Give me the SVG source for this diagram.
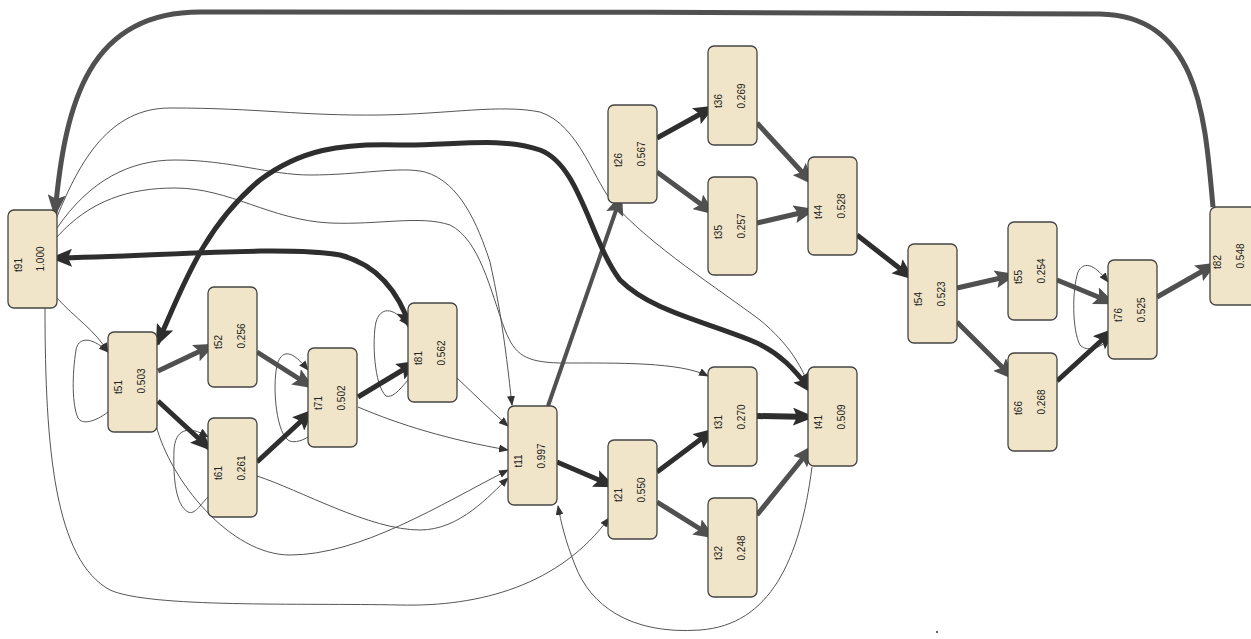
<svg xmlns="http://www.w3.org/2000/svg" width="1251" height="639" viewBox="0 0 1251 639">
<style>
.node{fill:#f0e5c8;stroke:#444;stroke-width:1.3}
.t{font-family:"Liberation Sans",Arial,sans-serif;font-size:10px;fill:#222;text-anchor:middle}
.thin{fill:none;stroke:#555;stroke-width:1}
.dk{fill:none;stroke:#2e2e2e;stroke-width:5}
.gy{fill:none;stroke:#505050;stroke-width:5}
</style>
<defs>
<marker id="aD" viewBox="0 0 22 18" refX="19" refY="9" markerWidth="22" markerHeight="18" markerUnits="userSpaceOnUse" orient="auto-start-reverse"><path d="M0,0 L22,9 L0,18 L4,9 z" fill="#2e2e2e"/></marker>
<marker id="aG" viewBox="0 0 22 18" refX="19" refY="9" markerWidth="22" markerHeight="18" markerUnits="userSpaceOnUse" orient="auto-start-reverse"><path d="M0,0 L22,9 L0,18 L4,9 z" fill="#505050"/></marker>
<marker id="aT" viewBox="0 0 10 8" refX="9" refY="4" markerWidth="10" markerHeight="8" markerUnits="userSpaceOnUse" orient="auto"><path d="M0,0 L10,4 L0,8 z" fill="#333"/></marker>
</defs>
<rect width="1251" height="639" fill="#fff"/>
<g id="connectors">
<path class="thin" marker-end="url(#aT)" d="M57,298 C75,318 95,330 108,352"/>
<path class="thin" marker-end="url(#aT)" d="M57,217 C80,160 110,108 170,108 C260,108 300,116 380,115 C450,114 500,104 540,112 C580,125 595,185 615,205 C650,245 720,290 760,320 C790,345 800,365 808,383"/>
<path class="thin" marker-end="url(#aT)" d="M57,228 C90,180 130,160 175,160 C230,160 270,175 310,175 C360,175 400,166 425,172 C460,182 478,225 490,262 C503,320 508,370 512,405"/>
<path class="thin" marker-end="url(#aT)" d="M57,237 C90,200 130,188 175,188 C230,188 270,220 330,223 C380,225 420,215 450,225 C480,240 490,290 505,330 C515,355 525,362 560,363 C620,363 680,362 708,376"/>
<path class="thin" marker-end="url(#aT)" d="M45,308 C45,450 55,560 110,590 C150,608 300,603 400,605 C480,607 560,585 609,518"/>
<path class="thin" marker-end="url(#aT)" d="M457,378 C475,395 490,410 508,426"/>
<path class="thin" marker-end="url(#aT)" d="M358,407 C400,425 450,440 508,450"/>
<path class="thin" marker-end="url(#aT)" d="M257,476 C300,490 370,530 420,530 C460,530 490,495 508,478"/>
<path class="thin" marker-end="url(#aT)" d="M156,425 C170,480 230,555 290,555 C360,555 440,505 508,470"/>
<path class="thin" marker-end="url(#aT)" d="M812,467 C800,560 770,625 700,630 C630,635 590,605 575,565 C565,540 561,522 558,506"/>
<path class="thin" marker-end="url(#aT)" d="M108,412 C95,422 82,425 78,418 C72,405 72,375 76,350 C78,338 90,335 108,352"/>
<path class="thin" marker-end="url(#aT)" d="M208,497 C200,505 195,515 188,512 C176,505 173,480 174,450 C175,430 188,424 208,437"/>
<path class="thin" marker-end="url(#aT)" d="M308,437 C300,442 292,443 288,440 C275,430 272,380 278,362 C283,350 292,350 308,370"/>
<path class="thin" marker-end="url(#aT)" d="M408,380 C398,392 392,398 386,396 C374,385 372,340 376,322 C380,308 392,305 408,325"/>
<path class="thin" marker-end="url(#aT)" d="M1108,340 C1095,352 1085,350 1080,345 C1072,330 1072,290 1078,272 C1083,262 1093,262 1108,282"/>
<path class="gy" marker-end="url(#aG)" d="M158,371 L213,345"/>
<path class="dk" marker-end="url(#aD)" d="M158,401 L210,449"/>
<path class="gy" marker-end="url(#aG)" d="M257,352 L312,387"/>
<path class="dk" marker-end="url(#aD)" d="M257,462 L312,411"/>
<path class="dk" marker-end="url(#aD)" d="M358,397 L416,362"/>
<path class="dk" marker-end="url(#aD)" d="M557,462 L613,486"/>
<path class="gy" style="stroke-width:4" marker-end="url(#aG)" d="M548,406 L621,196"/>
<path class="dk" marker-end="url(#aD)" d="M657,138 L713,107"/>
<path class="gy" marker-end="url(#aG)" d="M657,172 L713,213"/>
<path class="gy" marker-end="url(#aG)" d="M757,123 L812,183"/>
<path class="gy" marker-end="url(#aG)" d="M757,223 L813,210"/>
<path class="dk" marker-end="url(#aD)" d="M857,235 L912,278"/>
<path class="gy" marker-end="url(#aG)" d="M957,288 L1014,275"/>
<path class="gy" marker-end="url(#aG)" d="M957,322 L1013,378"/>
<path class="gy" marker-end="url(#aG)" d="M1057,280 L1113,303"/>
<path class="dk" marker-end="url(#aD)" d="M1057,381 L1113,330"/>
<path class="gy" marker-end="url(#aG)" d="M1157,297 L1215,264"/>
<path class="dk" marker-end="url(#aD)" d="M657,472 L713,430"/>
<path class="gy" marker-end="url(#aG)" d="M657,502 L713,537"/>
<path class="dk" style="stroke-width:6" marker-end="url(#aD)" d="M757,416 L812,417"/>
<path class="gy" marker-end="url(#aG)" d="M757,515 L812,447"/>
<path class="gy" marker-end="url(#aG)" d="M1213,207 C1205,120 1200,16 1100,14 C900,12 400,12 200,12 C90,12 65,100 55,214"/>
<path class="dk" marker-start="url(#aD)" marker-end="url(#aD)" d="M53,258 C150,257 280,245 340,255 C380,265 400,295 411,329"/>
<path class="dk" marker-start="url(#aD)" marker-end="url(#aD)" d="M157,344 C180,295 200,230 260,180 C300,150 340,143 400,145 C450,146 500,136 540,150 C580,165 590,240 620,280 C650,310 700,320 750,340 C780,352 795,370 812,392"/>
</g>
<g id="t91"><rect class="node" x="8" y="210" width="49" height="98" rx="6"/><text class="t" transform="translate(21.5,265) rotate(-90)">t91</text><text class="t" transform="translate(44,259) rotate(-90)">1.000</text></g>
<g id="t51"><rect class="node" x="108" y="332" width="49" height="100" rx="6"/><text class="t" transform="translate(121.5,387) rotate(-90)">t51</text><text class="t" transform="translate(145,381) rotate(-90)">0.503</text></g>
<g id="t52"><rect class="node" x="208" y="287" width="49" height="100" rx="6"/><text class="t" transform="translate(221.5,342) rotate(-90)">t52</text><text class="t" transform="translate(245,336) rotate(-90)">0.256</text></g>
<g id="t61"><rect class="node" x="208" y="418" width="49" height="99" rx="6"/><text class="t" transform="translate(221.5,473) rotate(-90)">t61</text><text class="t" transform="translate(245,468) rotate(-90)">0.261</text></g>
<g id="t71"><rect class="node" x="308" y="348" width="49" height="99" rx="6"/><text class="t" transform="translate(321.5,403) rotate(-90)">t71</text><text class="t" transform="translate(345,398) rotate(-90)">0.502</text></g>
<g id="t81"><rect class="node" x="408" y="303" width="49" height="99" rx="6"/><text class="t" transform="translate(421.5,358) rotate(-90)">t81</text><text class="t" transform="translate(445,353) rotate(-90)">0.562</text></g>
<g id="t11"><rect class="node" x="508" y="406" width="49" height="99" rx="6"/><text class="t" transform="translate(521.5,461) rotate(-90)">t11</text><text class="t" transform="translate(545,456) rotate(-90)">0.997</text></g>
<g id="t21"><rect class="node" x="608" y="440" width="49" height="99" rx="6"/><text class="t" transform="translate(621.5,495) rotate(-90)">t21</text><text class="t" transform="translate(645,490) rotate(-90)">0.550</text></g>
<g id="t26"><rect class="node" x="608" y="105" width="49" height="98" rx="6"/><text class="t" transform="translate(621.5,160) rotate(-90)">t26</text><text class="t" transform="translate(645,154) rotate(-90)">0.567</text></g>
<g id="t36"><rect class="node" x="708" y="46" width="49" height="99" rx="6"/><text class="t" transform="translate(721.5,101) rotate(-90)">t36</text><text class="t" transform="translate(745,96) rotate(-90)">0.269</text></g>
<g id="t35"><rect class="node" x="708" y="177" width="49" height="98" rx="6"/><text class="t" transform="translate(721.5,232) rotate(-90)">t35</text><text class="t" transform="translate(745,226) rotate(-90)">0.257</text></g>
<g id="t44"><rect class="node" x="808" y="157" width="49" height="98" rx="6"/><text class="t" transform="translate(821.5,212) rotate(-90)">t44</text><text class="t" transform="translate(845,206) rotate(-90)">0.528</text></g>
<g id="t31"><rect class="node" x="708" y="367" width="49" height="99" rx="6"/><text class="t" transform="translate(721.5,422) rotate(-90)">t31</text><text class="t" transform="translate(745,417) rotate(-90)">0.270</text></g>
<g id="t32"><rect class="node" x="708" y="498" width="49" height="99" rx="6"/><text class="t" transform="translate(721.5,553) rotate(-90)">t32</text><text class="t" transform="translate(745,548) rotate(-90)">0.248</text></g>
<g id="t41"><rect class="node" x="808" y="367" width="49" height="99" rx="6"/><text class="t" transform="translate(821.5,422) rotate(-90)">t41</text><text class="t" transform="translate(845,417) rotate(-90)">0.509</text></g>
<g id="t54"><rect class="node" x="908" y="244" width="49" height="99" rx="6"/><text class="t" transform="translate(921.5,299) rotate(-90)">t54</text><text class="t" transform="translate(945,294) rotate(-90)">0.523</text></g>
<g id="t55"><rect class="node" x="1008" y="222" width="49" height="98" rx="6"/><text class="t" transform="translate(1021.5,277) rotate(-90)">t55</text><text class="t" transform="translate(1045,271) rotate(-90)">0.254</text></g>
<g id="t66"><rect class="node" x="1008" y="353" width="49" height="98" rx="6"/><text class="t" transform="translate(1021.5,408) rotate(-90)">t66</text><text class="t" transform="translate(1045,402) rotate(-90)">0.268</text></g>
<g id="t76"><rect class="node" x="1108" y="260" width="49" height="99" rx="6"/><text class="t" transform="translate(1121.5,315) rotate(-90)">t76</text><text class="t" transform="translate(1145,310) rotate(-90)">0.525</text></g>
<g id="t82"><rect class="node" x="1210" y="207" width="49" height="98" rx="6"/><text class="t" transform="translate(1221,262) rotate(-90)">t82</text><text class="t" transform="translate(1244,256) rotate(-90)">0.548</text></g>
<circle cx="937" cy="632" r="1" fill="#333"/>
</svg>
